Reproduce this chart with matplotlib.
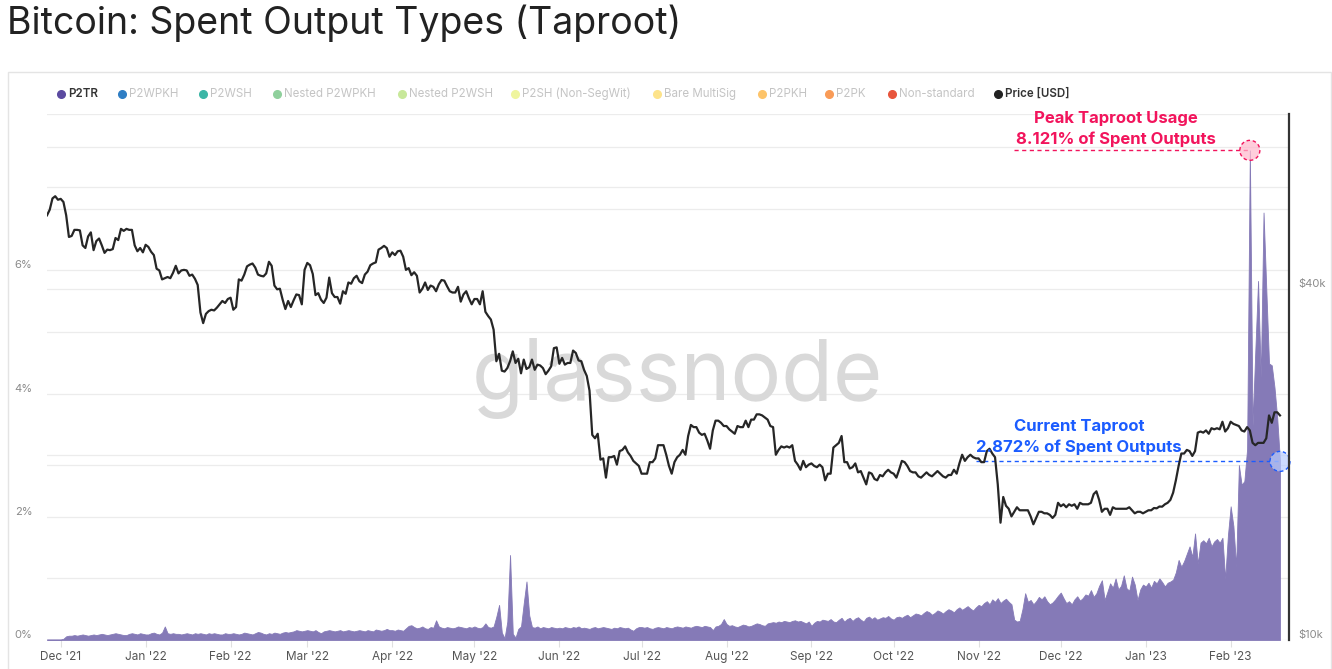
import numpy as np
import pandas as pd
import matplotlib
matplotlib.use("Agg")
import matplotlib.pyplot as plt
import matplotlib.dates as mdates
import matplotlib.patches as mpatches
import matplotlib.transforms as mtransforms

plt.rcParams['font.family'] = ['Inter', 'DejaVu Sans']

# ---------------- data ----------------
start_date = "2021-11-26"

# P2TR share of spent outputs (%), daily from 2021-11-26 to 2023-02-19
p2tr_nov21 = [0.01, 0.01, 0.01, 0.01, 0.01]
p2tr_dec21 = [0.01, 0.02, 0.06, 0.07, 0.07, 0.08, 0.07, 0.08, 0.09, 0.08,
              0.07, 0.08, 0.09, 0.08, 0.09, 0.10, 0.09, 0.08, 0.09, 0.10,
              0.11, 0.10, 0.09, 0.08, 0.08, 0.10, 0.11, 0.10, 0.09, 0.11, 0.10]
p2tr_jan22 = [0.09, 0.09, 0.11, 0.12, 0.10, 0.09, 0.12, 0.22, 0.11, 0.10,
              0.11, 0.10, 0.10, 0.09, 0.10, 0.11, 0.10, 0.09, 0.11, 0.10,
              0.11, 0.10, 0.09, 0.11, 0.10, 0.11, 0.10, 0.09, 0.09, 0.11, 0.10]
p2tr_feb22 = [0.10, 0.11, 0.10, 0.09, 0.10, 0.12, 0.11, 0.10, 0.09, 0.11,
              0.13, 0.12, 0.10, 0.09, 0.11, 0.10, 0.12, 0.11, 0.10, 0.12,
              0.13, 0.12, 0.13, 0.14, 0.16, 0.15, 0.14, 0.15]
p2tr_mar22 = [0.16, 0.15, 0.14, 0.16, 0.13, 0.11, 0.14, 0.15, 0.16, 0.15,
              0.14, 0.15, 0.16, 0.14, 0.15, 0.16, 0.15, 0.14, 0.15, 0.16,
              0.15, 0.14, 0.16, 0.15, 0.14, 0.17, 0.16, 0.15, 0.16, 0.18, 0.16]
p2tr_apr22 = [0.16, 0.15, 0.17, 0.16, 0.15, 0.19, 0.23, 0.24, 0.21, 0.19,
              0.20, 0.22, 0.19, 0.18, 0.21, 0.20, 0.32, 0.22, 0.20, 0.19,
              0.21, 0.20, 0.19, 0.20, 0.22, 0.21, 0.20, 0.19, 0.21, 0.20]
p2tr_may22 = [0.22, 0.20, 0.19, 0.21, 0.27, 0.21, 0.20, 0.22, 0.38, 0.57,
              0.12, 0.03, 0.30, 1.38, 0.10, 0.04, 0.18, 0.22, 0.60, 0.95,
              0.40, 0.21, 0.20, 0.22, 0.19, 0.21, 0.20, 0.19, 0.21, 0.20, 0.19]
p2tr_jun22 = [0.20, 0.19, 0.21, 0.20, 0.19, 0.21, 0.20, 0.22, 0.19, 0.20,
              0.19, 0.18, 0.20, 0.21, 0.19, 0.20, 0.21, 0.20, 0.19, 0.18,
              0.20, 0.19, 0.21, 0.20, 0.19, 0.20, 0.17, 0.15, 0.19, 0.21]
p2tr_jul22 = [0.21, 0.20, 0.21, 0.19, 0.18, 0.20, 0.21, 0.20, 0.19, 0.21,
              0.20, 0.19, 0.21, 0.22, 0.21, 0.20, 0.22, 0.21, 0.20, 0.22,
              0.23, 0.22, 0.21, 0.23, 0.22, 0.21, 0.16, 0.22, 0.23, 0.26, 0.34]
p2tr_aug22 = [0.26, 0.23, 0.24, 0.22, 0.21, 0.23, 0.25, 0.24, 0.22, 0.23,
              0.25, 0.27, 0.26, 0.24, 0.23, 0.27, 0.28, 0.29, 0.28, 0.30,
              0.29, 0.31, 0.30, 0.29, 0.31, 0.32, 0.30, 0.31, 0.29, 0.27, 0.30]
p2tr_sep22 = [0.23, 0.28, 0.31, 0.30, 0.33, 0.32, 0.31, 0.34, 0.30, 0.29,
              0.33, 0.36, 0.30, 0.34, 0.36, 0.31, 0.35, 0.37, 0.33, 0.30,
              0.36, 0.38, 0.34, 0.37, 0.33, 0.35, 0.37, 0.36, 0.39, 0.35]
p2tr_oct22 = [0.33, 0.37, 0.38, 0.36, 0.39, 0.41, 0.37, 0.40, 0.43, 0.42,
              0.40, 0.44, 0.47, 0.45, 0.41, 0.44, 0.48, 0.46, 0.43, 0.47,
              0.50, 0.48, 0.45, 0.50, 0.53, 0.49, 0.52, 0.55, 0.51, 0.48, 0.53]
p2tr_nov22 = [0.57, 0.55, 0.60, 0.63, 0.58, 0.66, 0.62, 0.68, 0.60, 0.64,
              0.67, 0.62, 0.58, 0.33, 0.30, 0.31, 0.50, 0.76, 0.62, 0.65,
              0.58, 0.63, 0.70, 0.66, 0.71, 0.63, 0.58, 0.61, 0.66, 0.72]
p2tr_dec22 = [0.77, 0.68, 0.60, 0.63, 0.58, 0.66, 0.71, 0.64, 0.68, 0.74,
              0.72, 0.81, 0.70, 0.76, 0.88, 0.97, 0.65, 0.78, 0.92, 0.85,
              1.00, 0.82, 0.88, 1.05, 0.84, 0.80, 1.03, 0.90, 0.65, 0.82, 0.90]
p2tr_jan23 = [0.87, 0.93, 0.85, 0.96, 0.92, 1.00, 0.94, 0.87, 0.93, 0.95,
              0.98, 1.10, 1.30, 1.19, 1.28, 1.40, 1.52, 1.35, 1.73, 1.24,
              1.58, 1.62, 1.57, 1.66, 1.52, 1.60, 1.64, 1.58, 1.66, 0.99, 1.70]
p2tr_feb23 = [2.17, 1.85, 1.19, 2.84, 2.52, 2.58, 3.10, 7.95, 3.48, 4.70,
              5.83, 4.26, 6.94, 5.70, 4.49, 4.46, 4.10, 3.60, 2.90]

# BTC price (USD thousands), daily from 2021-11-26 to 2023-02-19
price_nov21 = [53.6, 54.8, 57.3, 57.8, 57.0]
price_dec21 = [57.2, 56.5, 53.6, 49.2, 49.4, 50.6, 50.6, 50.5, 47.6, 47.1,
               49.3, 50.1, 46.7, 48.4, 48.9, 47.6, 46.2, 46.8, 46.7, 46.9,
               49.0, 48.6, 50.8, 50.4, 50.8, 50.6, 50.6, 47.6, 46.5, 47.1, 46.3]
price_jan22 = [47.7, 47.3, 46.4, 45.8, 43.4, 43.1, 41.6, 41.8, 42.0, 41.8,
               42.7, 43.9, 42.6, 43.1, 43.2, 43.1, 42.2, 42.4, 41.7, 40.7,
               36.5, 35.0, 36.3, 36.7, 36.9, 36.8, 37.2, 37.7, 38.2, 37.9, 38.5]
price_feb22 = [38.7, 36.9, 37.3, 41.6, 41.4, 42.4, 43.8, 44.1, 44.3, 43.6,
               42.4, 42.2, 42.1, 42.6, 44.6, 43.9, 40.6, 40.0, 40.1, 38.4,
               37.0, 38.2, 37.3, 38.3, 39.2, 39.1, 37.7, 43.2]
price_mar22 = [44.4, 44.0, 42.5, 39.1, 39.4, 38.4, 37.9, 38.7, 41.9, 39.4,
               38.8, 38.8, 37.8, 39.7, 39.3, 41.1, 40.9, 41.8, 42.2, 41.3,
               41.0, 42.4, 42.9, 44.0, 44.3, 44.5, 46.8, 47.1, 47.5, 47.1, 45.5]
price_apr22 = [46.3, 45.8, 46.5, 46.6, 45.5, 43.2, 43.5, 42.3, 42.8, 42.2,
               39.5, 40.1, 41.1, 39.9, 40.6, 40.4, 39.7, 40.8, 41.5, 41.4,
               40.5, 39.7, 39.5, 39.5, 40.4, 38.1, 39.2, 39.7, 38.6, 37.7]
price_may22 = [38.5, 38.5, 37.7, 39.7, 36.6, 36.0, 35.5, 34.1, 30.1, 31.0,
               29.0, 28.9, 29.3, 30.1, 31.3, 29.9, 30.4, 28.7, 30.3, 29.2,
               29.4, 30.3, 29.1, 29.7, 29.6, 29.3, 28.6, 29.0, 29.5, 31.7, 31.8]
price_jun22 = [29.8, 30.5, 29.7, 29.9, 29.9, 31.4, 31.1, 30.2, 30.1, 29.1,
               28.4, 26.8, 22.5, 22.2, 22.6, 20.4, 20.5, 19.0, 20.6, 20.6,
               20.7, 20.0, 21.1, 21.2, 21.5, 21.0, 20.7, 20.3, 20.1, 19.9]
price_jul22 = [19.3, 19.3, 19.3, 20.2, 20.2, 20.5, 21.6, 21.6, 21.6, 20.8,
               19.9, 19.3, 20.2, 20.6, 20.8, 21.2, 20.8, 22.4, 23.4, 23.2,
               23.2, 22.7, 22.5, 22.6, 22.0, 21.3, 22.9, 23.8, 23.8, 23.6, 23.3]
price_aug22 = [23.3, 23.0, 22.8, 22.6, 23.3, 23.2, 23.2, 23.8, 23.2, 23.9,
               23.9, 24.4, 24.4, 24.3, 24.1, 23.9, 23.3, 23.2, 20.8, 21.2,
               21.5, 21.4, 21.5, 21.4, 21.6, 20.3, 20.0, 19.6, 20.3, 19.8, 20.0]
price_sep22 = [20.1, 19.9, 19.8, 20.0, 19.8, 18.8, 19.3, 19.3, 21.4, 21.6,
               21.8, 22.4, 20.2, 20.2, 19.7, 19.8, 20.1, 19.4, 19.5, 19.0,
               18.5, 19.4, 19.3, 18.9, 18.8, 19.2, 19.1, 19.4, 19.6, 19.4]
price_oct22 = [19.3, 19.0, 19.6, 20.3, 20.2, 19.9, 19.5, 19.4, 19.4, 19.1,
               19.0, 19.2, 19.4, 19.2, 19.1, 19.3, 19.5, 19.3, 19.1, 19.0,
               19.2, 19.2, 19.6, 19.3, 20.1, 20.8, 20.3, 20.6, 20.8, 20.6, 20.5]
price_nov22 = [20.5, 20.2, 20.2, 21.1, 21.3, 20.9, 20.6, 18.5, 15.9, 17.6,
               17.0, 16.8, 16.3, 16.6, 16.9, 16.7, 16.7, 16.7, 16.7, 16.3,
               15.8, 16.2, 16.6, 16.6, 16.5, 16.5, 16.4, 16.2, 16.4, 17.2]
price_dec22 = [16.97, 17.1, 16.9, 17.1, 17.0, 17.1, 16.8, 17.2, 17.1, 17.1,
               17.1, 17.2, 17.8, 18.0, 17.4, 16.6, 16.8, 16.8, 16.4, 16.9,
               16.8, 16.8, 16.8, 16.8, 16.8, 16.9, 16.7, 16.5, 16.6, 16.6, 16.5]
price_jan23 = [16.6, 16.7, 16.7, 16.85, 16.83, 16.95, 16.94, 17.1, 17.2, 17.4,
               17.9, 18.8, 19.9, 20.9, 20.9, 21.2, 21.1, 20.7, 21.1, 22.7,
               22.8, 22.7, 22.9, 22.6, 23.1, 23.0, 23.1, 23.0, 23.7, 22.8, 23.1]
price_feb23 = [23.7, 23.5, 23.4, 23.3, 22.9, 22.8, 23.2, 22.9, 21.8, 21.6,
               21.8, 21.8, 21.8, 22.2, 24.3, 23.6, 24.6, 24.6, 24.3]

p2tr_pct = (p2tr_nov21 + p2tr_dec21 + p2tr_jan22 + p2tr_feb22 + p2tr_mar22 +
            p2tr_apr22 + p2tr_may22 + p2tr_jun22 + p2tr_jul22 + p2tr_aug22 +
            p2tr_sep22 + p2tr_oct22 + p2tr_nov22 + p2tr_dec22 + p2tr_jan23 +
            p2tr_feb23)
price_k = (price_nov21 + price_dec21 + price_jan22 + price_feb22 + price_mar22 +
           price_apr22 + price_may22 + price_jun22 + price_jul22 + price_aug22 +
           price_sep22 + price_oct22 + price_nov22 + price_dec22 + price_jan23 +
           price_feb23)

legend_labels = ["P2TR", "P2WPKH", "P2WSH", "Nested P2WPKH", "Nested P2WSH",
                 "P2SH (Non-SegWit)", "Bare MultiSig", "P2PKH", "P2PK",
                 "Non-standard", "Price [USD]"]
legend_colors = ["#5b4aa0", "#2f7ec4", "#3cb6a6", "#8fd09c", "#c8e89a",
                 "#eff59e", "#fde38a", "#fdc46a", "#f99b57", "#e8553c", "#222222"]
legend_active = [True, False, False, False, False, False, False, False, False,
                 False, True]
legend_x_px = [61, 122, 203, 277, 402, 515, 657, 762, 829, 892, 998]

peak_label = ["Peak Taproot Usage", "8.121% of Spent Outputs"]
current_label = ["Current Taproot", "2.872% of Spent Outputs"]

pct_ticks = [0, 2, 4, 6]
pct_grid = [1, 3, 5, 7, 8]
price_ticks = [10000, 40000]
price_grid = [20000, 40000, 60000, 80000]

# ---------------- figure ----------------
W, H = 1332, 669
fig = plt.figure(figsize=(W / 100, H / 100), dpi=100)
fig.patch.set_facecolor("white")


def fx(px):
    return px / W


def fy(py):
    return 1 - py / H


# card border
fig.patches.append(mpatches.Rectangle((fx(8), fy(680)), fx(1331) - fx(8), fy(72) - fy(680),
                                      transform=fig.transFigure, fill=False,
                                      ec="#e4e4e4", lw=1.0))

fig.text(fx(7), fy(23), "Bitcoin: Spent Output Types (Taproot)", fontsize=27,
         color="#222222", ha="left", va="center")

# legend
for lab, col, act, xp in zip(legend_labels, legend_colors, legend_active, legend_x_px):
    fig.lines.append(plt.Line2D([fx(xp)], [fy(94)], marker="o", ms=5.5, color=col,
                                transform=fig.transFigure, ls="none"))
    fig.text(fx(xp + 7), fy(94), lab, fontsize=8.3, va="center", ha="left",
             color="#333333" if act else "#c4c4c4",
             fontweight="semibold" if act else "normal")

dates = pd.date_range(start_date, periods=len(p2tr_pct), freq="D")
pdates = pd.date_range(start_date, periods=len(price_k), freq="D")
price_usd = np.array(price_k) * 1000.0

ax = fig.add_axes([fx(47), fy(640), fx(1289) - fx(47), fy(114) - fy(640)])
ax2 = ax.twinx()

ax.fill_between(dates, 0, p2tr_pct, color="#857ab7", lw=0.6, ec="#857ab7", zorder=3)

ax.set_xlim(pd.Timestamp("2021-11-26 00:00"), pd.Timestamp("2023-02-22 07:00"))
ax.set_ylim(0, 8.54)

ax2.set_yscale("log")
ax2.set_ylim(10000, 80000)
ax2.plot(pdates, price_usd, color="#262626", lw=1.6, zorder=5)

# gridlines (all drawn on the back axes)
for v in pct_ticks + pct_grid:
    ax.axhline(v, color="#ececec", lw=0.9, zorder=1)
blend = mtransforms.blended_transform_factory(ax.transAxes, ax2.transData)
for v in price_grid:
    ax.plot([0, 1], [v, v], transform=blend, color="#ececec", lw=0.9, zorder=1)

# watermark
ax.text(fx(677), fy(400), "glassnode", transform=fig.transFigure, fontsize=61,
        color="#d9d9d9", ha="center", va="baseline", zorder=1.5)

for a in (ax, ax2):
    for s in ("top", "left", "bottom"):
        a.spines[s].set_visible(False)
ax.spines["right"].set_visible(False)
ax2.spines["right"].set_color("#333333")
ax2.spines["right"].set_linewidth(1.6)

ax.set_yticks(pct_ticks)
ax.set_yticklabels([f"{v}%" for v in pct_ticks])
ax.tick_params(axis="y", length=0, pad=10.5, labelsize=8, labelcolor="#8a8a8a")
plt.setp(ax.get_yticklabels(), va="bottom")

ax2.set_yticks(price_ticks)
ax2.set_yticklabels([f"${int(v/1000)}k" for v in price_ticks])
ax2.yaxis.set_minor_locator(matplotlib.ticker.NullLocator())
ax2.tick_params(axis="y", which="both", length=0, pad=7, labelsize=8, labelcolor="#8a8a8a")
plt.setp(ax2.get_yticklabels(), va="bottom")

month_ticks = pd.date_range("2021-12-01", "2023-02-01", freq="MS")
ax.set_xticks(month_ticks)
ax.xaxis.set_major_formatter(mdates.DateFormatter("%b '%y"))
ax.tick_params(axis="x", length=5, width=0.8, color="#e0e0e0", pad=3,
               labelsize=8.5, labelcolor="#555555")

# annotations
peak_i = int(np.argmax(p2tr_pct))
peak_x = mdates.date2num(dates[peak_i])
peak_y = p2tr_pct[peak_i]
cur_x = mdates.date2num(dates[-1])
cur_y = p2tr_pct[-1]

pink = "#f2145c"
blue = "#1b5cff"

ax.plot([mdates.date2num(pd.Timestamp("2022-11-14")), peak_x], [peak_y, peak_y],
        color=pink, lw=1.0, ls=(0, (3, 2.5)), zorder=6)
ax.plot([mdates.date2num(pd.Timestamp("2022-10-31")), cur_x], [cur_y, cur_y],
        color=blue, lw=1.0, ls=(0, (3, 2.5)), zorder=6)


def ring(x, y, color, fill):
    tr = fig.dpi_scale_trans + mtransforms.ScaledTranslation(x, y, ax.transData)
    c = mpatches.Circle((0, 0), 0.10, transform=tr, fc=fill, ec=color, lw=1.0,
                        ls=(0, (2.5, 2)), zorder=7, clip_on=False)
    ax.add_patch(c)


ring(peak_x, peak_y, pink, (1.0, 0.72, 0.80, 0.7))
ring(cur_x, cur_y, blue, (0.72, 0.80, 1.0, 0.7))

fig.text(fx(1116), fy(119), peak_label[0], color=pink, fontsize=12,
         fontweight="bold", ha="center", va="center")
fig.text(fx(1116), fy(139), peak_label[1], color=pink, fontsize=12,
         fontweight="bold", ha="center", va="center")
fig.text(fx(1079), fy(427), current_label[0], color=blue, fontsize=12,
         fontweight="bold", ha="center", va="center")
fig.text(fx(1079), fy(447), current_label[1], color=blue, fontsize=12,
         fontweight="bold", ha="center", va="center")

fig.savefig("out.png", dpi=100, facecolor="white")
